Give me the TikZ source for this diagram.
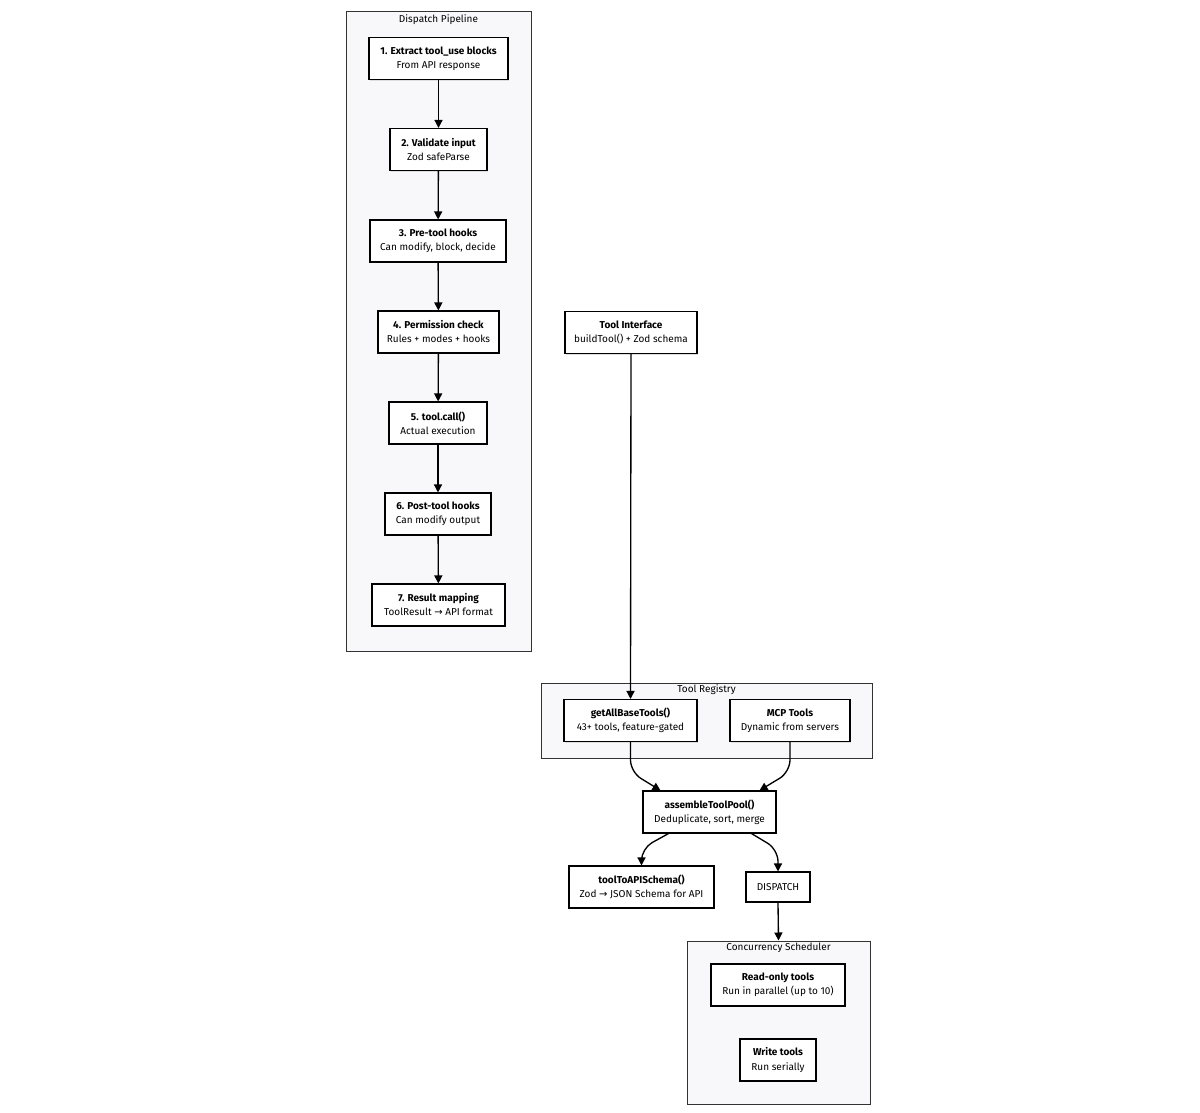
\documentclass[tikz,border=0pt]{standalone}
\usepackage{fontspec}
\setmainfont{Fira Sans}
\newfontfamily\symfont{DejaVu Sans}
\usetikzlibrary{arrows.meta,calc,shadows}

\definecolor{clusterbg}{RGB}{248,248,251}
\definecolor{shadowgray}{RGB}{222,222,222}

\tikzset{
  box/.style={draw=black, line width=0.8pt, fill=white, align=center, inner sep=2pt,
    minimum height=31.5pt, font=\fontsize{7.5}{10.5}\selectfont,
    drop shadow={shadow xshift=1pt, shadow yshift=-1pt, fill=shadowgray, opacity=1}},
  cluster/.style={draw=black!80, line width=0.75pt, fill=clusterbg, inner sep=0pt},
  clustertitle/.style={font=\fontsize{7.5}{9}\selectfont, inner sep=0pt, anchor=north},
  flow/.style={draw=black, line width=1pt, -{Triangle[length=6pt,width=6pt]}},
}

\begin{document}
\begin{tikzpicture}[x=0.75pt,y=0.75pt,yscale=-1,xscale=1]
        %set diagram size
        \path[fill=white] (0,0) rectangle (1200,1113);
        \useasboundingbox (0,0) rectangle (1200,1113);

        %Shape: Cluster [Dispatch Pipeline]
        \node[cluster, minimum width=138.75pt, minimum height=479.25pt] (pipe) at (438.5,331.5) {};
        \node[clustertitle] (pipetitle) at ($(pipe.north)+(0,3)$) {Dispatch Pipeline};
        %Shape: Cluster [Tool Registry]
        \node[cluster, minimum width=248.25pt, minimum height=56.25pt] (registry) at (706.5,720.5) {};
        \node[clustertitle] (registrytitle) at ($(registry.north)+(0,2)$) {Tool Registry};
        %Shape: Cluster [Concurrency Scheduler]
        \node[cluster, minimum width=137.25pt, minimum height=122.25pt] (sched) at (778.5,1022.5) {};
        \node[clustertitle] (schedtitle) at ($(sched.north)+(0,2)$) {Concurrency Scheduler};

        % Text Node
        \node[box, minimum width=104.25pt] (extract) at (438.5,58.5) {\textbf{1. Extract tool\_use blocks}\\From API response};
        % Text Node
        \node[box, minimum width=72.75pt] (validate) at (438.5,149.5) {\textbf{2. Validate input}\\Zod safeParse};
        % Text Node
        \node[box, minimum width=102pt] (prehooks) at (438,241) {\textbf{3. Pre-tool hooks}\\Can modify, block, decide};
        % Text Node
        \node[box, minimum width=90.75pt] (permission) at (438.5,332) {\textbf{4. Permission check}\\Rules + modes + hooks};
        % Text Node
        \node[box, minimum width=73.5pt] (toolcall) at (438,423) {\textbf{5. tool.call()}\\Actual execution};
        % Text Node
        \node[box, minimum width=79.5pt] (posthooks) at (438,514) {\textbf{6. Post-tool hooks}\\Can modify output};
        % Text Node
        \node[box, minimum width=99.75pt] (mapping) at (438.5,605) {\textbf{7. Result mapping}\\ToolResult {\symfont →} API format};

        % Text Node
        \node[box, minimum width=99pt] (iface) at (631,332.5) {\textbf{Tool Interface}\\buildTool() + Zod schema};
        % Text Node
        \node[box, minimum width=99.75pt] (getall) at (630.5,720.5) {\textbf{getAllBaseTools()}\\43+ tools, feature-gated};
        % Text Node
        \node[box, minimum width=90pt] (mcp) at (790,720.5) {\textbf{MCP Tools}\\Dynamic from servers};
        % Text Node
        \node[box, minimum width=99.75pt] (assemble) at (709.5,812) {\textbf{assembleToolPool()}\\Deduplicate, sort, merge};
        % Text Node
        \node[box, minimum width=108.75pt] (toapi) at (641.5,887) {\textbf{toolToAPISchema()}\\Zod {\symfont →} JSON Schema for API};
        % Text Node
        \node[box, minimum width=48pt, minimum height=22.5pt] (dispatch) at (778,887) {DISPATCH};
        % Text Node
        \node[box, minimum width=100.5pt] (readonly) at (778,985) {\textbf{Read-only tools}\\Run in parallel (up to 10)};
        % Text Node
        \node[box, minimum width=57pt] (write) at (778,1060) {\textbf{Write tools}\\Run serially};

        %Straight Lines
        \draw[flow] (extract) -- (validate);
        \draw[flow] (validate) -- (prehooks);
        \draw[flow] (prehooks) -- (permission);
        \draw[flow] (permission) -- (toolcall);
        \draw[flow] (toolcall) -- (posthooks);
        \draw[flow] (posthooks) -- (mapping);
        \draw[flow] (iface.south) -- (getall.north);
        \draw[flow] (dispatch.south) -- (sched.north);

        %Curved Lines
        \draw[flow, rounded corners=9pt] (getall.south) -- ++(0,30) -- ($(assemble.north)+(-49,0)$);
        \draw[flow, rounded corners=9pt] (mcp.south) -- ++(0,30) -- ($(assemble.north)+(50,0)$);
        \draw[flow, rounded corners=9pt] ($(assemble.south)+(-41,0)$) -- ($(toapi.north)+(0,-17)$) -- (toapi.north);
        \draw[flow, rounded corners=9pt] ($(assemble.south)+(42,0)$) -- ($(dispatch.north)+(0,-22)$) -- (dispatch.north);

\end{tikzpicture}
\end{document}
